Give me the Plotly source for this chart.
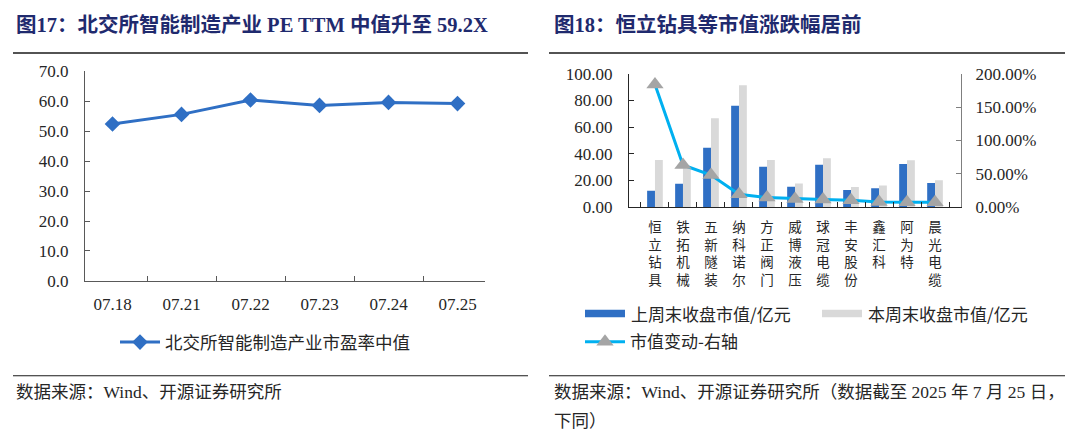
import plotly.graph_objects as go

# ---------------- data ----------------
dates = ["07.18", "07.21", "07.22", "07.23", "07.24", "07.25"]
pe_median = [52.4, 55.6, 60.4, 58.6, 59.6, 59.2]

companies = ["恒立钻具", "铁拓机械", "五新隧装", "纳科诺尔", "方正阀门", "威博液压",
             "球冠电缆", "丰安股份", "鑫汇科", "阿为特", "晨光电缆"]
mv_last_week = [12.2, 17.5, 44.4, 76.0, 30.2, 15.1, 31.7, 12.7, 14.0, 32.2, 18.0]
mv_this_week = [35.3, 29.0, 66.7, 91.4, 35.3, 17.7, 36.5, 14.9, 16.1, 35.0, 20.1]
mv_change = [1.84, 0.63, 0.48, 0.19, 0.14, 0.12, 0.11, 0.10, 0.075, 0.072, 0.07]

left_ticks = [0, 10, 20, 30, 40, 50, 60, 70]
right_left_ticks = [0, 20, 40, 60, 80, 100]
right_right_ticks = [0, 0.5, 1.0, 1.5, 2.0]

W, H = 1080, 448
FONT = "Liberation Serif, Noto Sans CJK SC"
CJK = "Noto Sans CJK SC, Liberation Serif"
TITLE_C = "#1F2A6E"
TXT = "#262626"
BLUE = "#2F6FC4"
GRAY = "#D9D9D9"
CYAN = "#00B0F0"
TRI = "#A5A5A5"


def px(x):
    return x / W


def py(y):
    return 1 - y / H


fig = go.Figure()

# ---- left chart ----
fig.add_trace(go.Scatter(
    x=dates, y=pe_median, mode="lines+markers", name="北交所智能制造产业市盈率中值",
    line=dict(color=BLUE, width=3), marker=dict(symbol="diamond", size=12, color=BLUE),
    xaxis="x", yaxis="y", legend="legend", showlegend=True,
))

# ---- right chart ----
ticktext = ["<br>".join(list(c)) for c in companies]
fig.add_trace(go.Bar(
    x=companies, y=mv_last_week, name="上周末收盘市值/亿元", marker=dict(color=BLUE, line_width=0),
    xaxis="x2", yaxis="y2", showlegend=False,
))
fig.add_trace(go.Bar(
    x=companies, y=mv_this_week, name="本周末收盘市值/亿元", marker=dict(color=GRAY, line_width=0),
    xaxis="x2", yaxis="y2", showlegend=False,
))
fig.add_trace(go.Scatter(
    x=companies, y=mv_change, mode="lines+markers", name="市值变动-右轴",
    line=dict(color=CYAN, width=3), marker=dict(symbol="triangle-up", size=15, color=TRI),
    xaxis="x2", yaxis="y3", legend="legend2", showlegend=True,
))

axis_common = dict(showgrid=False, zeroline=False, ticks="inside", ticklen=5,
                   tickfont=dict(family=FONT, size=17, color=TXT), fixedrange=True)

fig.update_layout(
    width=W, height=H,
    margin=dict(l=0, r=0, t=0, b=0),
    paper_bgcolor="white", plot_bgcolor="white",
    barmode="group", bargap=0.44, bargroupgap=0,
    font=dict(family=FONT, color=TXT),
    xaxis=dict(domain=[px(85), px(485)], anchor="y", type="category",
               showline=True, linecolor="#595959", linewidth=1.2, tickson="boundaries",
               tickcolor="#595959", ticklabelstandoff=8, **axis_common),
    yaxis=dict(domain=[py(284), py(65)], anchor="x", range=[0, 70], tickvals=left_ticks,
               tickformat=".1f", showline=True, linecolor="#595959", linewidth=1.2,
               tickcolor="#595959", ticklabelstandoff=12, **axis_common),
    xaxis2=dict(domain=[px(629), px(961)], anchor="y2", type="category",
                showline=True, linecolor="#262626", linewidth=1.2, tickson="boundaries",
                tickcolor="#262626", tickvals=companies, ticktext=ticktext,
                ticklabelstandoff=8,
                **{k: v for k, v in axis_common.items() if k != "tickfont"},
                tickfont=dict(family=FONT, size=13.5, color=TXT)),
    yaxis2=dict(domain=[py(206.7), py(67.7)], anchor="x2", range=[0, 100],
                tickvals=right_left_ticks, tickformat=".2f", showline=True,
                linecolor="#262626", linewidth=1.2, tickcolor="#262626",
                ticklabelstandoff=12, **axis_common),
    yaxis3=dict(overlaying="y2", anchor="x2", side="right", range=[0, 2.0],
                tickvals=right_right_ticks, tickformat=".2%", showline=True,
                linecolor="#7F7F7F", linewidth=1.2, tickcolor="#7F7F7F",
                ticklabelstandoff=10, **axis_common),
    legend=dict(x=px(115), y=py(348), xanchor="left", yanchor="middle",
                bgcolor="rgba(0,0,0,0)", borderwidth=0, itemwidth=40,
                font=dict(family=CJK, size=17.5, color=TXT)),
    legend2=dict(x=px(580), y=py(348), xanchor="left", yanchor="middle",
                 bgcolor="rgba(0,0,0,0)", borderwidth=0, itemwidth=40,
                 font=dict(family=CJK, size=17, color=TXT)),
)

shapes = []
annotations = []

# titles and rules
annotations.append(dict(text="<b>图17：北交所智能制造产业 PE TTM 中值升至 59.2X</b>",
                        x=px(14), y=py(16), xref="paper", yref="paper", xanchor="left",
                        yanchor="middle", showarrow=False,
                        font=dict(family=FONT, size=20.5, color=TITLE_C)))
annotations.append(dict(text="<b>图18：恒立钻具等市值涨跌幅居前</b>",
                        x=px(552), y=py(16), xref="paper", yref="paper", xanchor="left",
                        yanchor="middle", showarrow=False,
                        font=dict(family=FONT, size=20.5, color=TITLE_C)))
shapes.append(dict(type="line", xref="paper", yref="paper", x0=px(13), x1=px(528),
                   y0=py(46), y1=py(46), line=dict(color="#1a1a1a", width=1.5)))
shapes.append(dict(type="line", xref="paper", yref="paper", x0=px(549), x1=px(1065),
                   y0=py(46), y1=py(46), line=dict(color="#1a1a1a", width=1.5)))

# footers
shapes.append(dict(type="line", xref="paper", yref="paper", x0=px(13), x1=px(528),
                   y0=py(383), y1=py(383), line=dict(color="#1a1a1a", width=1.2)))
shapes.append(dict(type="line", xref="paper", yref="paper", x0=px(549), x1=px(1065),
                   y0=py(383), y1=py(383), line=dict(color="#1a1a1a", width=1.2)))
annotations.append(dict(text="数据来源：Wind、开源证券研究所",
                        x=px(14), y=py(400), xref="paper", yref="paper", xanchor="left",
                        yanchor="middle", showarrow=False,
                        font=dict(family=FONT, size=17.5, color=TXT)))
annotations.append(dict(text="数据来源：Wind、开源证券研究所（数据截至 2025 年 7 月 25 日，",
                        x=px(552), y=py(400), xref="paper", yref="paper", xanchor="left",
                        yanchor="middle", showarrow=False,
                        font=dict(family=FONT, size=17.5, color=TXT)))
annotations.append(dict(text="下同）",
                        x=px(552), y=py(430), xref="paper", yref="paper", xanchor="left",
                        yanchor="middle", showarrow=False,
                        font=dict(family=FONT, size=17.5, color=TXT)))

# manual legend for bars
shapes.append(dict(type="rect", xref="paper", yref="paper", x0=px(585), x1=px(625),
                   y0=py(322), y1=py(314), fillcolor=BLUE, line_width=0))
annotations.append(dict(text="上周末收盘市值/亿元", x=px(629), y=py(318), xref="paper",
                        yref="paper", xanchor="left", yanchor="middle", showarrow=False,
                        font=dict(family=CJK, size=17, color=TXT)))
shapes.append(dict(type="rect", xref="paper", yref="paper", x0=px(822), x1=px(862),
                   y0=py(322), y1=py(314), fillcolor=GRAY, line_width=0))
annotations.append(dict(text="本周末收盘市值/亿元", x=px(866), y=py(318), xref="paper",
                        yref="paper", xanchor="left", yanchor="middle", showarrow=False,
                        font=dict(family=CJK, size=17, color=TXT)))

fig.update_layout(shapes=shapes, annotations=annotations)

fig.write_html("out.html", config={"displayModeBar": False},
               post_script="document.body.style.margin='0';")
